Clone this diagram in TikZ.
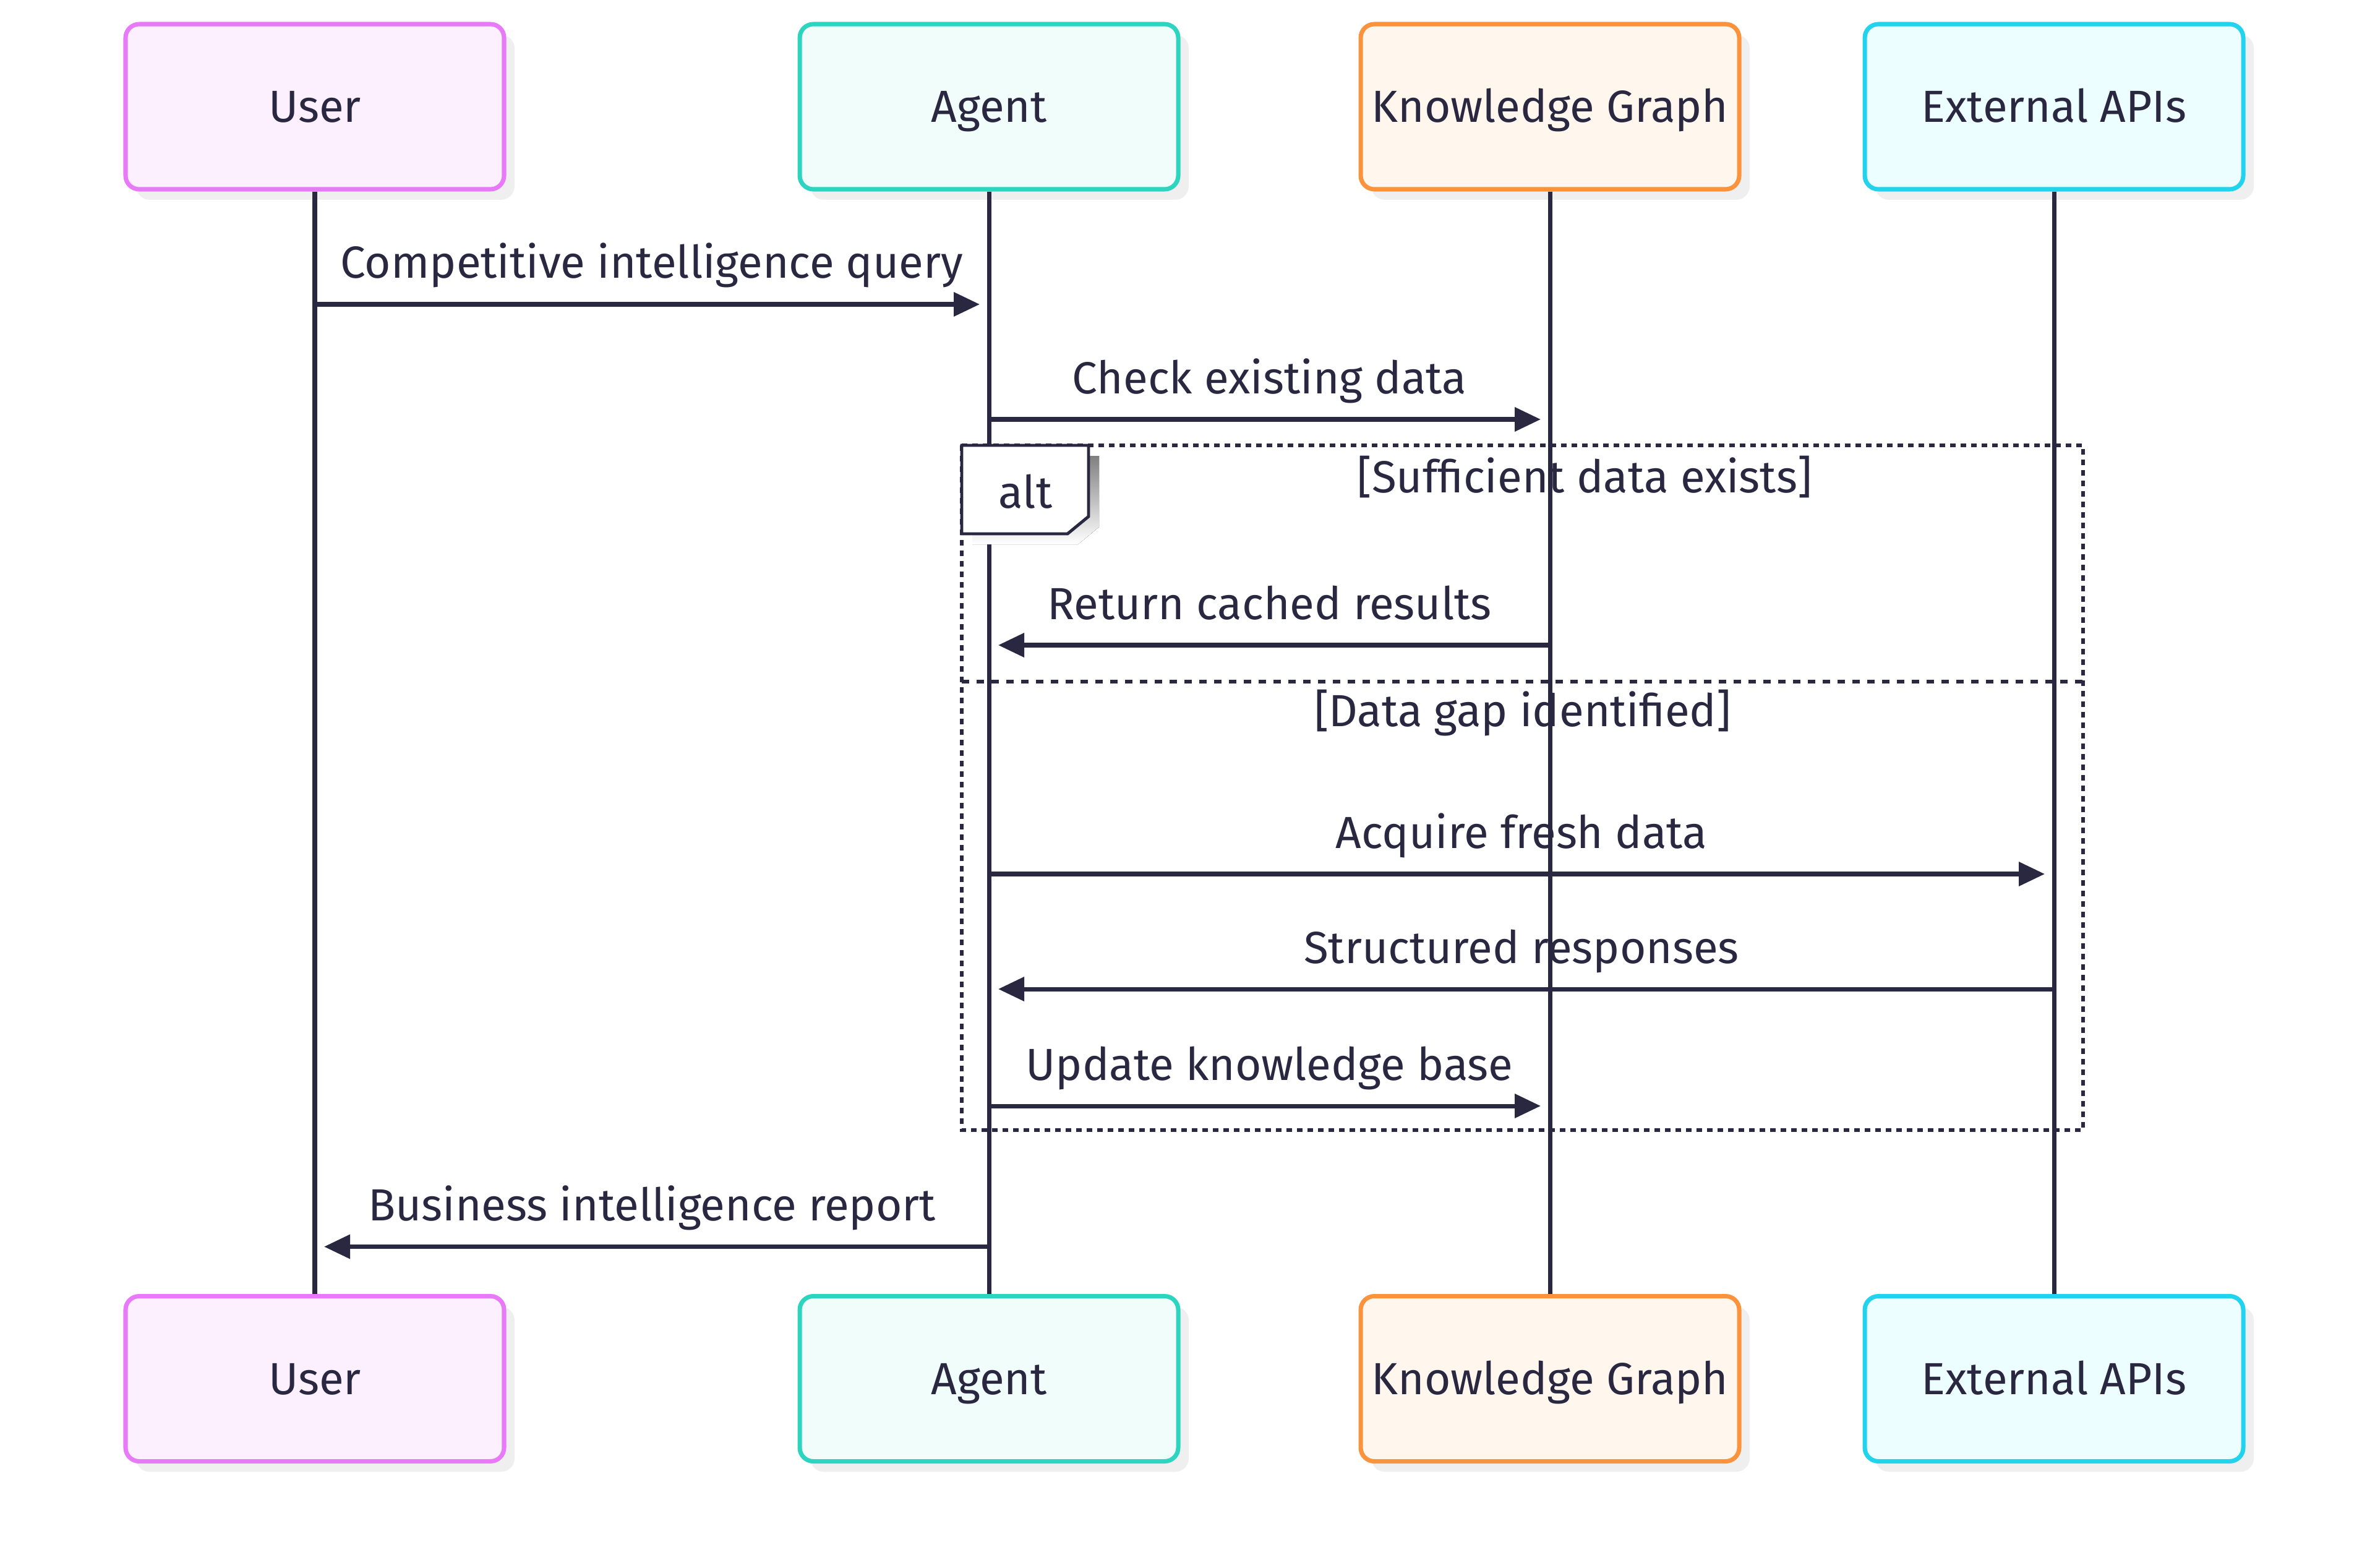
\documentclass[tikz,border=0pt]{standalone}
\usepackage{fontspec}
\setmainfont{Fira Sans}
\usetikzlibrary{arrows.meta,shadows}

\definecolor{ink}{HTML}{2A2741}
\definecolor{userline}{HTML}{E879F9}
\definecolor{userfill}{HTML}{FDF0FE}
\definecolor{agentline}{HTML}{2DD4BF}
\definecolor{agentfill}{HTML}{F0FDFA}
\definecolor{kgline}{HTML}{FB923C}
\definecolor{kgfill}{HTML}{FFF7ED}
\definecolor{apiline}{HTML}{22D3EE}
\definecolor{apifill}{HTML}{ECFEFF}
\definecolor{shade}{HTML}{EFEFEF}

\tikzset{
  actor/.style={draw, rounded corners=0.22cm, line width=2pt,
    minimum width=6.12cm, minimum height=2.67cm, text=ink,
    text height=0.5cm, text depth=0pt,
    font=\fontsize{20.7}{24}\selectfont,
    drop shadow={shadow xshift=0.17cm, shadow yshift=-0.17cm, fill=shade, opacity=1}},
  lifeline/.style={ink, line width=2pt},
  msg/.style={ink, line width=2pt, -{Triangle[length=0.42cm, width=0.38cm]}, shorten >=0.15cm},
  msgtext/.style={midway, anchor=base, yshift=0.42cm, text=ink, font=\fontsize{20.7}{24}\selectfont},
  guard/.style={text=ink, font=\fontsize{20.7}{24}\selectfont},
  framestyle/.style={ink, line width=1.7pt, dash pattern=on 0.09cm off 0.08cm},
  divider/.style={ink, line width=1.7pt, dash pattern=on 0.12cm off 0.12cm}
}

\begin{document}
\begin{tikzpicture}
    \useasboundingbox (0,0) rectangle (38.4,-25.35);

    % Participants, top row
    \node[actor, fill=userfill, draw=userline] (user) at (5.09,-1.725) {User};
    \node[actor, fill=agentfill, draw=agentline] (agent) at (15.99,-1.725) {Agent};
    \node[actor, fill=kgfill, draw=kgline] (kg) at (25.06,-1.725) {Knowledge Graph};
    \node[actor, fill=apifill, draw=apiline] (api) at (33.21,-1.725) {External APIs};

    % Participants, bottom row
    \node[actor, fill=userfill, draw=userline] (userB) at (5.09,-22.29) {User};
    \node[actor, fill=agentfill, draw=agentline] (agentB) at (15.99,-22.29) {Agent};
    \node[actor, fill=kgfill, draw=kgline] (kgB) at (25.06,-22.29) {Knowledge Graph};
    \node[actor, fill=apifill, draw=apiline] (apiB) at (33.21,-22.29) {External APIs};

    % Alt frame
    \coordinate (frameNW) at (15.55,-7.20);
    \coordinate (frameSE) at (33.68,-18.27);
    \coordinate (split) at (0,-11.02);
    \draw[framestyle] (frameNW) rectangle (frameSE);
    \draw[divider] (frameNW |- split) -- (frameSE |- split);

    % Lifelines
    \draw[lifeline] (user) -- (userB);
    \draw[lifeline] (agent) -- (agentB);
    \draw[lifeline] (kg) -- (kgB);
    \draw[lifeline] (api) -- (apiB);

    % Label box of the frame
    \fill[shade] (15.72,-7.37) -- (17.77,-7.37) -- (17.77,-8.52) -- (17.43,-8.80) -- (15.72,-8.80) -- cycle;
    \draw[ink, line width=1.4pt, fill=white] (15.55,-7.20) -- (17.60,-7.20) -- (17.60,-8.35) -- (17.26,-8.63) -- (15.55,-8.63) -- cycle;
    \node[guard] (altlabel) at (16.58,-7.95) {alt};

    % Guards
    \node[guard] (guardA) at (25.62,-7.71) {[Sufficient data exists]};
    \node[guard] (guardB) at (24.62,-11.53) {[Data gap identified]};

    % Messages
    \coordinate (m1) at (0,-4.92);
    \coordinate (m2) at (0,-6.78);
    \coordinate (m3) at (0,-10.43);
    \coordinate (m4) at (0,-14.13);
    \coordinate (m5) at (0,-15.99);
    \coordinate (m6) at (0,-17.88);
    \coordinate (m7) at (0,-20.155);

    \draw[msg] (user |- m1) -- (agent |- m1) node[msgtext] {Competitive intelligence query};
    \draw[msg] (agent |- m2) -- (kg |- m2) node[msgtext] {Check existing data};
    \draw[msg] (kg |- m3) -- (agent |- m3) node[msgtext] {Return cached results};
    \draw[msg] (agent |- m4) -- (api |- m4) node[msgtext] {Acquire fresh data};
    \draw[msg] (api |- m5) -- (agent |- m5) node[msgtext] {Structured responses};
    \draw[msg] (agent |- m6) -- (kg |- m6) node[msgtext] {Update knowledge base};
    \draw[msg] (agent |- m7) -- (user |- m7) node[msgtext] {Business intelligence report};
\end{tikzpicture}
\end{document}
